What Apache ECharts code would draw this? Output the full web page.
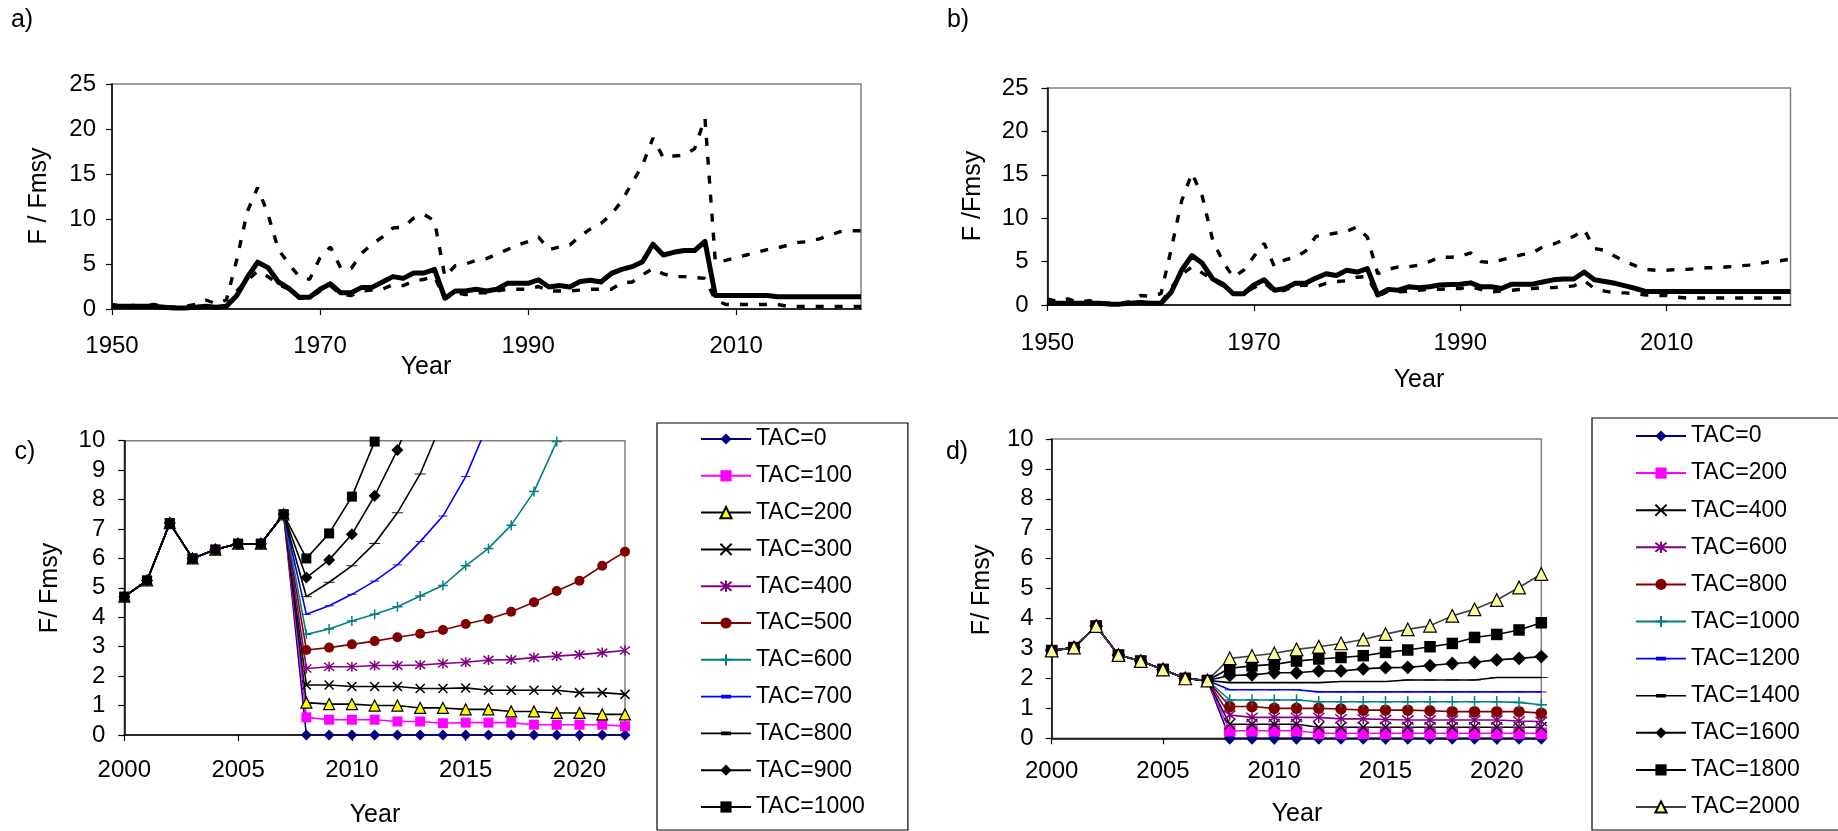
<!DOCTYPE html>
<html><head><meta charset="utf-8">
<script src="https://cdn.jsdelivr.net/npm/echarts@6/dist/echarts.min.js"></script>
<style>html,body{margin:0;padding:0;background:#fff}#c{width:1838px;height:831px}</style>
</head><body><div id="c"></div>
<script>
// ---------- DATA ----------
// Panels a & b : years 1950..2022
const yearsAB = []; for (let y = 1950; y <= 2022; y++) yearsAB.push(y);
const aMid = [0.3,0.3,0.3,0.3,0.3,0.2,0.1,0.1,0.2,0.3,0.2,0.3,
  1.5,3.5,5.2,4.6,3.0,2.3,1.3,1.3,2.2,2.8,
  1.8,1.8,2.4,2.4,3.0,3.6,3.4,4.0,4.0,4.4,
  1.2,2.0,2.0,2.2,2.0,2.2,2.85,2.85,2.85,3.25,
  2.45,2.6,2.45,3.05,3.2,3.0,3.95,4.4,4.7,5.25,
  7.2,6.0,6.3,6.5,6.5,7.5,1.5,1.5,1.5,1.5,
  1.5,1.5,1.35,1.35,1.35,1.35,1.35,1.35,1.35,1.35,1.35];
const aHigh = [0.5,0.3,0.4,0.3,0.5,0.3,0.2,0.3,0.5,1.0,0.6,1.0,
  5.5,10.8,13.5,10.5,6.6,5.0,3.6,3.3,5.7,6.9,
  4.5,4.5,6.2,7.2,8.0,9.0,9.1,10.1,10.5,9.8,
  3.6,4.8,5.0,5.4,5.6,6.1,6.6,7.1,7.5,8.0,
  6.6,6.9,7.1,8.1,8.9,9.5,10.5,12.0,14.0,16.0,
  19.0,16.8,17.0,17.1,17.8,21.2,5.2,5.4,5.7,6.0,
  6.3,6.6,6.8,7.1,7.4,7.5,7.8,8.2,8.6,8.7,8.7];
const aLow = [0.3,0.2,0.2,0.2,0.2,0.2,0.1,0.1,0.2,0.2,0.2,0.3,
  2.0,3.2,4.2,3.6,2.7,2.2,1.2,1.2,2.0,2.6,
  1.6,1.5,2.0,2.1,2.2,2.7,2.6,3.1,3.3,3.6,
  1.1,1.8,1.6,1.8,1.8,2.0,2.2,2.2,2.2,2.5,
  2.0,2.0,2.0,2.1,2.2,2.2,2.2,2.9,3.0,3.8,
  4.5,3.9,3.6,3.6,3.5,3.4,1.0,0.5,0.5,0.5,
  0.5,0.5,0.5,0.28,0.28,0.28,0.28,0.28,0.28,0.28,0.28];
const bMid = [0.2,0.2,0.2,0.2,0.2,0.2,0.1,0.1,0.2,0.3,0.2,0.2,
  1.5,4.0,5.7,4.8,3.0,2.4,1.3,1.3,2.3,2.9,
  1.7,1.9,2.5,2.5,3.1,3.6,3.4,4.0,3.8,4.2,
  1.15,1.8,1.7,2.1,2.0,2.1,2.3,2.35,2.4,2.55,
  2.1,2.1,1.9,2.4,2.4,2.4,2.65,2.9,3.0,3.0,
  3.8,2.9,2.7,2.5,2.2,1.9,1.55,1.55,1.55,1.55,
  1.55,1.55,1.55,1.55,1.55,1.55,1.55,1.55,1.55,1.55,1.55];
const bHigh = [0.7,0.4,0.7,0.3,0.5,0.3,0.2,0.2,0.4,1.1,1.0,1.3,
  6.5,12.0,15.2,12.5,7.5,5.0,3.2,4.0,5.6,7.1,
  4.4,5.2,5.5,6.2,7.9,8.1,8.3,8.5,9.0,7.8,
  3.6,4.1,4.4,4.4,4.6,5.0,5.5,5.5,5.6,6.0,
  5.0,4.9,5.2,5.5,5.8,6.0,6.7,7.0,7.5,7.9,
  8.7,6.5,6.3,5.6,5.0,4.5,4.1,4.0,4.0,4.1,
  4.1,4.2,4.3,4.3,4.4,4.5,4.6,4.8,5.0,5.1,5.3];
const bLow = [0.3,0.2,0.2,0.2,0.2,0.2,0.1,0.1,0.2,0.3,0.2,0.3,
  2.0,3.5,4.4,3.7,2.9,2.2,1.3,1.3,2.0,2.6,
  1.5,1.7,2.2,2.3,2.1,2.5,2.7,2.8,3.2,3.3,
  1.0,1.6,1.5,1.6,1.7,1.8,1.8,1.9,1.9,2.1,
  1.8,1.5,1.6,1.7,1.8,1.9,2.0,2.0,2.1,2.2,
  2.8,1.9,1.6,1.4,1.4,1.3,1.15,1.1,1.1,0.9,
  0.8,0.8,0.8,0.8,0.8,0.8,0.8,0.8,0.8,0.8,0.8];

// Panels c & d : years 2000..2022 (history 2000-2007, projections 2008-2022)
const yearsCD = []; for (let y = 2000; y <= 2022; y++) yearsCD.push(y);
const histC = [4.7,5.25,7.2,6.0,6.3,6.5,6.5,7.5];
const histD = [2.93,3.03,3.75,2.78,2.58,2.3,2.0,1.93];
const namesC = ['TAC=0','TAC=100','TAC=200','TAC=300','TAC=400','TAC=500','TAC=600','TAC=700','TAC=800','TAC=900','TAC=1000'];
const projC = [
  [0,0,0,0,0,0,0,0,0,0,0,0,0,0,0],
  [0.6,0.52,0.52,0.52,0.46,0.46,0.4,0.42,0.42,0.42,0.35,0.35,0.35,0.35,0.3],
  [1.1,1.05,1.05,1.0,1.0,0.92,0.92,0.87,0.87,0.8,0.8,0.75,0.75,0.7,0.7],
  [1.7,1.7,1.65,1.65,1.65,1.58,1.58,1.6,1.52,1.52,1.52,1.52,1.44,1.44,1.38],
  [2.26,2.32,2.32,2.36,2.36,2.38,2.43,2.47,2.55,2.56,2.63,2.68,2.73,2.8,2.87],
  [2.89,2.97,3.08,3.19,3.32,3.44,3.57,3.77,3.94,4.19,4.51,4.89,5.24,5.75,6.23],
  [3.42,3.6,3.87,4.1,4.36,4.72,5.08,5.75,6.34,7.13,8.27,9.97,12.0,null,null],
  [4.1,4.39,4.78,5.23,5.78,6.57,7.44,8.78,10.6,null,null,null,null,null,null],
  [4.7,5.19,5.75,6.51,7.55,8.87,10.7,null,null,null,null,null,null,null,null],
  [5.35,5.95,6.82,8.13,9.68,11.7,null,null,null,null,null,null,null,null,null],
  [6.0,6.85,8.1,9.97,12.5,null,null,null,null,null,null,null,null,null,null]
];
const namesD = ['TAC=0','TAC=200','TAC=400','TAC=600','TAC=800','TAC=1000','TAC=1200','TAC=1400','TAC=1600','TAC=1800','TAC=2000'];
const projD = [
  [0,0,0,0,0,0,0,0,0,0,0,0,0,0,0],
  [0.25,0.25,0.25,0.25,0.17,0.17,0.17,0.17,0.17,0.17,0.17,0.17,0.17,0.17,0.17],
  [0.47,0.47,0.47,0.47,0.37,0.37,0.37,0.37,0.37,0.37,0.37,0.37,0.37,0.37,0.37],
  [0.78,0.7,0.7,0.7,0.7,0.65,0.65,0.63,0.61,0.61,0.61,0.61,0.61,0.58,0.56],
  [1.06,1.06,1.0,1.0,1.0,0.98,0.94,0.94,0.94,0.92,0.89,0.89,0.89,0.89,0.84],
  [1.28,1.28,1.28,1.28,1.22,1.22,1.22,1.22,1.22,1.22,1.22,1.22,1.22,1.2,1.12],
  [1.62,1.62,1.62,1.62,1.55,1.55,1.55,1.55,1.55,1.55,1.55,1.55,1.55,1.55,1.55],
  [1.86,1.86,1.86,1.86,1.86,1.9,1.9,1.9,1.95,1.95,1.95,1.95,2.03,2.03,2.03],
  [2.1,2.12,2.19,2.19,2.25,2.25,2.32,2.36,2.37,2.43,2.5,2.54,2.62,2.67,2.73],
  [2.34,2.42,2.47,2.58,2.65,2.7,2.76,2.87,2.95,3.06,3.17,3.37,3.47,3.62,3.86],
  [2.67,2.75,2.84,2.97,3.06,3.17,3.3,3.48,3.64,3.76,4.09,4.31,4.62,5.04,5.49]
];
const ticksAB = [1950,1970,1990,2010];
const ticksCD = [2000,2005,2010,2015,2020];

// ---------- STYLE ----------
const FONT = "'Liberation Sans', Arial, sans-serif";
const X_PATH = 'path://M0,0L10,10M0,10L10,0';
const STAR_PATH = 'path://M0,1L10,9M0,9L10,1M5,0L5,10';
const PLUS_PATH = 'path://M5,0L5,10M0,5L10,5';
const DASH_PATH = 'path://M0,0L10,0L10,3L0,3Z';
const DASH_LEGEND_ICON = 'path://M0,6.6L50,6.6L50,8.2L0,8.2Z M20,5.6L30,5.6L30,9.2L20,9.2Z';
function makeMarkers(k) {
  const s = v => Array.isArray(v) ? [v[0]*k, v[1]] : v*k;
  return {
    navyDiamond:{line:'#000080', sym:'diamond', size:s(11), fill:'#000080', border:'#000080', bw:0},
    pinkSquare:{line:'#FF00FF', sym:'rect', size:s(10), fill:'#FF00FF', border:'#FF00FF', bw:0},
    yellowTri:{line:'#000000', sym:'triangle', size:s(11), fill:'#FFFF00', border:'#000000', bw:1.2},
    paleTri:{line:'#404040', sym:'triangle', size:s(11), fill:'#FFFF99', border:'#000000', bw:1.2},
    blackX:{line:'#000000', sym:X_PATH, size:s(9), fill:'#000000', border:'#000000', bw:1.5},
    purpleStar:{line:'#800080', sym:STAR_PATH, size:s(10), fill:'#800080', border:'#800080', bw:1.5},
    redCircle:{line:'#800000', sym:'circle', size:s(10), fill:'#800000', border:'#800000', bw:0},
    tealPlus:{line:'#008080', sym:PLUS_PATH, size:s(10), fill:'#008080', border:'#008080', bw:1.5},
    blueDash:{line:'#0000FF', sym:DASH_PATH, size:s([9,3]), fill:'#0000FF', border:'#0000FF', bw:0, legendIcon:DASH_LEGEND_ICON},
    blackDash:{line:'#000000', sym:DASH_PATH, size:s([11,3]), fill:'#000000', border:'#000000', bw:0, legendIcon:DASH_LEGEND_ICON},
    blackDiamond:{line:'#000000', sym:'diamond', size:s(12), fill:'#000000', border:'#000000', bw:0},
    blackSquare:{line:'#000000', sym:'rect', size:s(10), fill:'#000000', border:'#000000', bw:0}
  };
}
const mkC = makeMarkers(1.0), mkD = makeMarkers(1.15);
const markersC = [mkC.navyDiamond, mkC.pinkSquare, mkC.yellowTri, mkC.blackX, mkC.purpleStar, mkC.redCircle,
  mkC.tealPlus, mkC.blueDash, mkC.blackDash, mkC.blackDiamond, mkC.blackSquare];
const markersD = [mkD.navyDiamond, mkD.pinkSquare, mkD.blackX, mkD.purpleStar, mkD.redCircle,
  mkD.tealPlus, mkD.blueDash, mkD.blackDash, mkD.blackDiamond, mkD.blackSquare, mkD.paleTri];

function pairs(xs, ys) { return xs.map((x, i) => [x, ys[i] === undefined ? null : ys[i]]); }

const grids = [
  {left:112, top:84, width:749, height:225},
  {left:1047.5, top:88, width:743, height:217},
  {left:124.3, top:440.7, width:500.7, height:294.3},
  {left:1051.7, top:439, width:489.6, height:299.3}
].map(g => Object.assign({show:true, borderColor:'#808080', borderWidth:1.5, backgroundColor:'transparent'}, g));

function xAxis(gi, min, max, ticks, margin) {
  return {
    type:'value', gridIndex:gi, min, max, interval: (ticks[1]-ticks[0]),
    axisLine:{show:true, onZero:false, lineStyle:{color:'#000', width:1.5}},
    axisTick:{show:true, inside:false, length:6, lineStyle:{color:'#000', width:1.2}, customValues:ticks},
    axisLabel:{show:true, margin, fontSize:24, fontFamily:FONT, color:'#000', formatter:v => String(v), customValues:ticks},
    splitLine:{show:false}
  };
}
function yAxis(gi, max, interval, margin) {
  return {
    type:'value', gridIndex:gi, min:0, max, interval,
    axisLine:{show:true, onZero:false, lineStyle:{color:'#000', width:1.5}},
    axisTick:{show:true, inside:false, length:6, lineStyle:{color:'#000', width:1.2}},
    axisLabel:{show:true, margin, fontSize:24, fontFamily:FONT, color:'#000'},
    splitLine:{show:false}
  };
}

const series = [];
function abSeries(gi, high, mid, low) {
  const dashed = {color:'#000', width:3.4, type:[8,11]};
  series.push({type:'line', name:'high'+gi, xAxisIndex:gi, yAxisIndex:gi, data:pairs(yearsAB, high), showSymbol:false, symbol:'none',
    lineStyle:dashed, silent:true, animation:false});
  series.push({type:'line', name:'low'+gi, xAxisIndex:gi, yAxisIndex:gi, data:pairs(yearsAB, low), showSymbol:false, symbol:'none',
    lineStyle:dashed, silent:true, animation:false});
  series.push({type:'line', name:'mid'+gi, xAxisIndex:gi, yAxisIndex:gi, data:pairs(yearsAB, mid), showSymbol:false, symbol:'none',
    lineStyle:{color:'#000', width:5, join:'round'}, silent:true, animation:false});
}
abSeries(0, aHigh, aMid, aLow);
abSeries(1, bHigh, bMid, bLow);

function cdSeries(gi, prefix, names, hist, proj, markers) {
  names.forEach((nm, i) => {
    const m = markers[i];
    series.push({
      type:'line', name: prefix + '|' + nm, xAxisIndex:gi, yAxisIndex:gi,
      data: pairs(yearsCD, hist.concat(proj[i])),
      symbol: m.sym, symbolSize: m.size, symbolKeepAspect:true, showSymbol:true, showAllSymbol:true, connectNulls:false,
      lineStyle:{color:m.line, width:1.6},
      itemStyle:{color:m.fill, borderColor:m.border, borderWidth:m.bw},
      emphasis:{disabled:true}, animation:false, clip:true
    });
  });
}
cdSeries(2, 'c', namesC, histC, projC, markersC);
cdSeries(3, 'd', namesD, histD, projD, markersD);

function legend(names, prefix, markers, left, top, gap, pad) {
  return {
    show:true, orient:'vertical', left, top,
    data: names.map((n, i) => markers[i].legendIcon
      ? {name: prefix + '|' + n, icon: markers[i].legendIcon}
      : {name: prefix + '|' + n}),
    formatter: n => n.split('|')[1],
    itemWidth:50, itemHeight:14, itemGap:gap, padding:pad, symbolKeepAspect:true,
    borderColor:'#000', borderWidth:1.2, backgroundColor:'#fff',
    selectedMode:false,
    textStyle:{fontSize:23, fontFamily:FONT, color:'#000', lineHeight:24}
  };
}

function txt(x, y, text, rot) {
  const el = {type:'text', x, y, silent:true,
    style:{text, fontSize:25, fontFamily:FONT, fill:'#000', align:'center', verticalAlign:'middle'}};
  if (rot) el.rotation = rot;
  return el;
}

const option = {
  backgroundColor:'#fff',
  animation:false,
  grid: grids,
  xAxis: [xAxis(0,1950,2022,ticksAB,25), xAxis(1,1950,2022,ticksAB,26), xAxis(2,2000,2022,ticksCD,23), xAxis(3,2000,2022,ticksCD,21)],
  yAxis: [yAxis(0,25,5,16), yAxis(1,25,5,19), yAxis(2,10,1,19), yAxis(3,10,1,18)],
  legend: [legend(namesC,'c',markersC,657,423,12.8,[4,43,11,43]), legend(namesD,'d',markersD,1592,418,13.1,[6,43,11,43])],
  series,
  graphic: [
    txt(22, 20, 'a)'), txt(958, 20, 'b)'), txt(25, 452, 'c)'), txt(957, 452, 'd)'),
    txt(39, 196, 'F / Fmsy', Math.PI/2),
    txt(973.5, 196, 'F /Fmsy', Math.PI/2),
    txt(50, 588, 'F/ Fmsy', Math.PI/2),
    txt(982, 590, 'F/ Fmsy', Math.PI/2),
    txt(426, 367.5, 'Year'), txt(1419, 380, 'Year'), txt(375, 815, 'Year'), txt(1297, 814, 'Year')
  ]
};
const chart = echarts.init(document.getElementById('c'), null, {renderer:'canvas'});
chart.setOption(option);
</script></body></html>
